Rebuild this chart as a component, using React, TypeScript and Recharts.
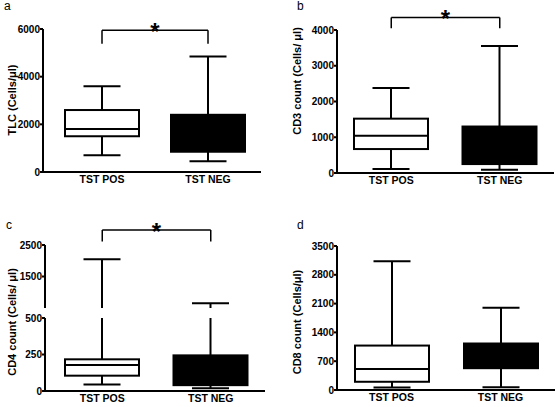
import { ComposedChart, Bar, XAxis, YAxis, ReferenceLine } from "recharts";

const GROUPS = ["TST POS", "TST NEG"];

// five-number summary per group: [min, q1, median, q3, max]
const TLC = [[700, 1500, 1800, 2600, 3600], [450, 850, 1500, 2400, 4850]];
const CD3 = [[110, 670, 1040, 1520, 2380], [90, 250, 800, 1300, 3550]];
const CD4 = [[45, 105, 178, 217, 2050], [18, 40, 120, 244, 650]];
const CD8 = [[60, 200, 510, 1080, 3130], [65, 530, 800, 1130, 2000]];

const TLC_TICKS = [0, 2000, 4000, 6000];
const CD3_TICKS = [0, 1000, 2000, 3000, 4000];
const CD4_LOW_TICKS = [0, 250, 500];
const CD4_HIGH_TICKS = [500, 1500, 2500];
const CD8_TICKS = [0, 700, 1400, 2100, 2800, 3500];

const CD4_BREAK = 500;

// significance brackets: [bar level, leg end]
const TLC_BRACKET = [5950, 5380];
const CD3_BRACKET = [4350, 4050];
const CD4_BRACKET = [2980, 2610];

const FONT = '"Liberation Sans", Arial, sans-serif';

const toRows = (stats: number[][], lo?: number, hi?: number) =>
  GROUPS.map((name, i) => {
    const [min, q1, median, q3, max] = stats[i];
    const a = lo ?? min;
    const b = hi == null ? max : Math.min(max, hi);
    return { name, min, q1, median, q3, max, span: [a, b], dark: i === 1 };
  });

function BoxShape(props: any) {
  const { x, y, width, height, payload } = props;
  const [lo, hi] = payload.span;
  const top = Math.min(y, y + height);
  const bottom = Math.max(y, y + height);
  const py = (v: number) => bottom - ((v - lo) / (hi - lo)) * (bottom - top);
  const cx = x + width / 2;
  const cap = width / 4;
  return (
    <g stroke="#000" strokeWidth={2}>
      <line x1={cx} x2={cx} y1={py(payload.min)} y2={top} />
      <line x1={cx - cap} x2={cx + cap} y1={py(payload.min)} y2={py(payload.min)} />
      {payload.max <= hi && <line x1={cx - cap} x2={cx + cap} y1={top} y2={top} />}
      <rect
        x={x}
        y={py(payload.q3)}
        width={width}
        height={py(payload.q1) - py(payload.q3)}
        fill={payload.dark ? "#000" : "#fff"}
      />
      <line x1={x} x2={x + width} y1={py(payload.median)} y2={py(payload.median)} />
    </g>
  );
}

// upper part of a whisker above the axis break
function WhiskerShape(props: any) {
  const { x, y, width, height } = props;
  const top = Math.min(y, y + height);
  const bottom = Math.max(y, y + height);
  const cx = x + width / 2;
  const cap = width / 4;
  return (
    <g stroke="#000" strokeWidth={2}>
      <line x1={cx} x2={cx} y1={bottom} y2={top} />
      <line x1={cx - cap} x2={cx + cap} y1={top} y2={top} />
    </g>
  );
}

function AxisTitle({ tx, ty, text }: { tx: number; ty: number; text: string }) {
  return (
    <text
      x={tx}
      y={ty}
      transform={`rotate(-90 ${tx} ${ty})`}
      textAnchor="middle"
      dominantBaseline="central"
      fontSize={11}
      fontWeight="bold"
      fontFamily={FONT}
      fill="#000"
    >
      {text}
    </text>
  );
}

const axisStroke = { stroke: "#000", strokeWidth: 2 };
const yTick = { fontSize: 10, fontWeight: "bold", fill: "#000", fontFamily: FONT };
const xTick = { fontSize: 10.5, fontWeight: "bold", fill: "#000", fontFamily: FONT };
const starLabel = { value: "*", position: "top" as const, offset: -10, fontSize: 24, fontWeight: "bold", fill: "#000", fontFamily: FONT };

function Bracket({ levels }: { levels: number[] }) {
  const [bar, leg] = levels;
  return [
    <ReferenceLine
      key="h"
      segment={[{ x: GROUPS[0], y: bar }, { x: GROUPS[1], y: bar }]}
      stroke="#000"
      strokeWidth={1.5}
      ifOverflow="visible"
      label={starLabel}
    />,
    <ReferenceLine key="l" segment={[{ x: GROUPS[0], y: bar }, { x: GROUPS[0], y: leg }]} stroke="#000" strokeWidth={1.5} ifOverflow="visible" />,
    <ReferenceLine key="r" segment={[{ x: GROUPS[1], y: bar }, { x: GROUPS[1], y: leg }]} stroke="#000" strokeWidth={1.5} ifOverflow="visible" />,
  ];
}

const letterStyle: React.CSSProperties = { position: "absolute", fontFamily: FONT, fontSize: 12, color: "#000" };

export default function App() {
  return (
    <div style={{ position: "absolute", left: 0, top: 0, width: 558, height: 407, background: "#fff", overflow: "hidden" }}>
      <div style={{ ...letterStyle, left: 4, top: -1 }}>a</div>
      <div style={{ ...letterStyle, left: 297, top: -1 }}>b</div>
      <div style={{ ...letterStyle, left: 6, top: 218 }}>c</div>
      <div style={{ ...letterStyle, left: 297, top: 218 }}>d</div>

      {/* a: TLC */}
      <div style={{ position: "absolute", left: 0, top: 0 }}>
        <ComposedChart width={279} height={200} data={toRows(TLC)} margin={{ top: 29, right: 18, bottom: 8, left: 0 }}>
          <XAxis dataKey="name" height={20} axisLine={axisStroke} tickLine={false} tickSize={0} tickMargin={4} tick={xTick} padding={{ left: 6, right: 0 }} />
          <YAxis
            width={43}
            domain={[0, 6000]}
            ticks={TLC_TICKS}
            axisLine={axisStroke}
            tickLine={axisStroke}
            tickSize={3}
            tickMargin={0}
            tick={yTick}
            label={<AxisTitle tx={12} ty={100} text="TLC (Cells/μl)" />}
          />
          <Bar dataKey="span" barSize={74} shape={<BoxShape />} isAnimationActive={false} />
          {Bracket({ levels: TLC_BRACKET })}
        </ComposedChart>
      </div>

      {/* b: CD3 */}
      <div style={{ position: "absolute", left: 279, top: 0 }}>
        <ComposedChart width={279} height={200} data={toRows(CD3)} margin={{ top: 30, right: 4, bottom: 7, left: 0 }}>
          <XAxis dataKey="name" height={20} axisLine={axisStroke} tickLine={false} tickSize={0} tickMargin={4} tick={xTick} />
          <YAxis
            width={58}
            domain={[0, 4000]}
            ticks={CD3_TICKS}
            axisLine={axisStroke}
            tickLine={axisStroke}
            tickSize={3}
            tickMargin={0}
            tick={yTick}
            label={<AxisTitle tx={18} ty={81} text="CD3 count (Cells/ μl)" />}
          />
          <Bar dataKey="span" barSize={74} shape={<BoxShape />} isAnimationActive={false} />
          {Bracket({ levels: CD3_BRACKET })}
        </ComposedChart>
      </div>

      {/* c: CD4, upper segment above the break */}
      <div style={{ position: "absolute", left: 0, top: 200 }}>
        <ComposedChart width={279} height={108} data={toRows(CD4, CD4_BREAK)} margin={{ top: 45, right: 14, bottom: 0, left: 0 }}>
          <XAxis dataKey="name" hide padding={{ left: 3, right: 0 }} />
          <YAxis
            width={45}
            domain={[500, 2500]}
            ticks={CD4_HIGH_TICKS}
            axisLine={axisStroke}
            tickLine={axisStroke}
            tickSize={3}
            tickMargin={0}
            tick={yTick}
          />
          <Bar dataKey="span" barSize={74} shape={<WhiskerShape />} isAnimationActive={false} />
          {Bracket({ levels: CD4_BRACKET })}
        </ComposedChart>
      </div>

      {/* c: CD4, lower segment */}
      <div style={{ position: "absolute", left: 0, top: 200 }}>
        <ComposedChart width={279} height={207} data={toRows(CD4, undefined, CD4_BREAK)} margin={{ top: 118, right: 14, bottom: 0, left: 0 }}>
          <XAxis dataKey="name" height={16} axisLine={axisStroke} tickLine={false} tickSize={0} tickMargin={4} tick={xTick} padding={{ left: 3, right: 0 }} />
          <YAxis
            width={45}
            domain={[0, 500]}
            ticks={CD4_LOW_TICKS}
            axisLine={axisStroke}
            tickLine={axisStroke}
            tickSize={3}
            tickMargin={0}
            tick={yTick}
            label={<AxisTitle tx={12} ty={122} text="CD4 count (Cells/ μl)" />}
          />
          <Bar dataKey="span" barSize={74} shape={<BoxShape />} isAnimationActive={false} />
        </ComposedChart>
      </div>

      {/* d: CD8 */}
      <div style={{ position: "absolute", left: 279, top: 200 }}>
        <ComposedChart width={279} height={207} data={toRows(CD8)} margin={{ top: 46, right: 3, bottom: 0, left: 0 }}>
          <XAxis dataKey="name" height={17} axisLine={axisStroke} tickLine={false} tickSize={0} tickMargin={4} tick={xTick} />
          <YAxis
            width={58}
            domain={[0, 3500]}
            ticks={CD8_TICKS}
            axisLine={axisStroke}
            tickLine={axisStroke}
            tickSize={3}
            tickMargin={0}
            tick={yTick}
            label={<AxisTitle tx={18} ty={122} text="CD8 count (Cells/μl)" />}
          />
          <Bar dataKey="span" barSize={74} shape={<BoxShape />} isAnimationActive={false} />
        </ComposedChart>
      </div>
    </div>
  );
}
